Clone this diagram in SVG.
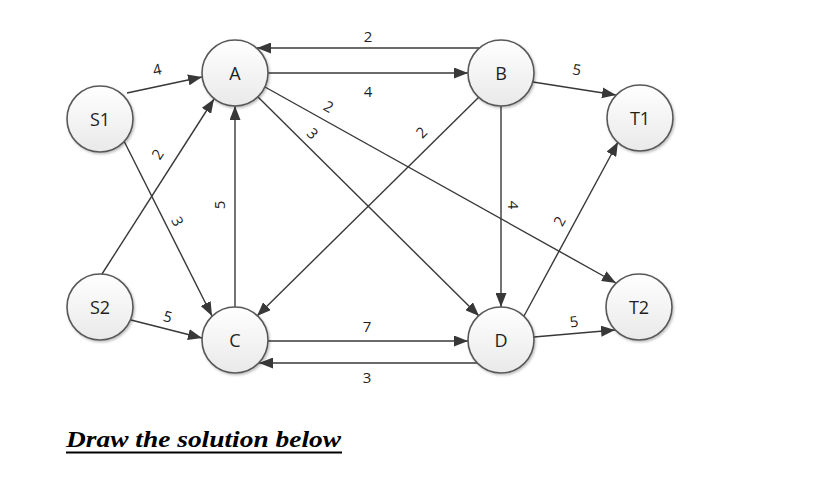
<svg xmlns="http://www.w3.org/2000/svg" width="826" height="496" viewBox="0 0 826 496">
<style>
.node circle{fill:url(#g);stroke:#595959;stroke-width:1.6;filter:url(#sh)}
.node text{font-family:"Open Sans","DejaVu Sans",sans-serif;font-size:18px;fill:#1f1f1f;text-anchor:middle;dominant-baseline:central}
.e line{stroke:#383838;stroke-width:1.4;fill:none}
.e .a{marker-end:url(#ah)}
.lb{font-family:"Open Sans","DejaVu Sans",sans-serif;font-size:15px;fill:#1f1f1f;text-anchor:middle;dominant-baseline:central}
.title{font-family:"Liberation Serif","Times New Roman",serif;font-size:24px;font-weight:bold;font-style:italic;fill:#000}
</style>
<defs>
<linearGradient id="g" x1="0" y1="0" x2="0" y2="1">
<stop offset="0" stop-color="#ffffff"/>
<stop offset="1" stop-color="#e9e9e9"/>
</linearGradient>
<filter id="sh" x="-20%" y="-20%" width="150%" height="150%">
<feDropShadow dx="1.2" dy="1.5" stdDeviation="1" flood-color="#000" flood-opacity="0.25"/>
</filter>
<marker id="ah" markerUnits="userSpaceOnUse" markerWidth="14" markerHeight="11" refX="14" refY="5.5" orient="auto">
<path d="M0,0 L14,5.5 L0,11 z" fill="#383838"/>
</marker>
</defs>
<rect width="826" height="496" fill="#fff"/>
<g id="connectors" class="e">
<line class="a" x1="127" y1="93" x2="202" y2="77"/>
<line class="a" x1="479" y1="48" x2="257" y2="48"/>
<line class="a" x1="268" y1="73" x2="468" y2="73"/>
<line class="a" x1="533" y1="82" x2="616" y2="95"/>
<line class="a" x1="235" y1="307" x2="235" y2="106"/>
<line class="a" x1="102" y1="274" x2="214" y2="99"/>
<line class="a" x1="124" y1="141" x2="212" y2="316"/>
<line class="a" x1="258" y1="97" x2="479" y2="316"/>
<line class="a" x1="265" y1="87" x2="616" y2="283"/>
<line class="a" x1="479" y1="97" x2="257" y2="316"/>
<line class="a" x1="501" y1="106" x2="501" y2="307"/>
<line class="a" x1="524" y1="316" x2="618" y2="142"/>
<line class="a" x1="534" y1="337" x2="615" y2="330"/>
<line class="a" x1="131" y1="320" x2="202" y2="338"/>
<line class="a" x1="268" y1="341" x2="468" y2="341"/>
<line class="a" x1="477" y1="363" x2="259" y2="363"/>
</g>
<g id="edge-labels">
<text class="lb" transform="translate(157,69) rotate(-12)">4</text>
<text class="lb" x="368" y="36">2</text>
<text class="lb" x="368" y="91">4</text>
<text class="lb" transform="translate(577,69) rotate(9)">5</text>
<text class="lb" transform="translate(219,205) rotate(-90)">5</text>
<text class="lb" transform="translate(157,154) rotate(-57)">2</text>
<text class="lb" transform="translate(178,221) rotate(63)">3</text>
<text class="lb" transform="translate(313,133) rotate(45)">3</text>
<text class="lb" transform="translate(329,106) rotate(29)">2</text>
<text class="lb" transform="translate(421,132) rotate(-45)">2</text>
<text class="lb" transform="translate(514,205) rotate(90)">4</text>
<text class="lb" transform="translate(559,221) rotate(-62)">2</text>
<text class="lb" transform="translate(574,321) rotate(-8)">5</text>
<text class="lb" transform="translate(168,316) rotate(15)">5</text>
<text class="lb" x="367" y="326">7</text>
<text class="lb" x="367" y="377">3</text>
</g>
<g id="S1" class="node"><circle cx="100" cy="119" r="33"/><text x="100" y="119">S1</text></g>
<g id="A" class="node"><circle cx="235" cy="73" r="33"/><text x="235" y="73">A</text></g>
<g id="B" class="node"><circle cx="501" cy="73" r="33"/><text x="501" y="73">B</text></g>
<g id="T1" class="node"><circle cx="640" cy="118" r="33"/><text x="640" y="118">T1</text></g>
<g id="S2" class="node"><circle cx="100" cy="307" r="33"/><text x="100" y="307">S2</text></g>
<g id="C" class="node"><circle cx="235" cy="340" r="33"/><text x="235" y="340">C</text></g>
<g id="D" class="node"><circle cx="501" cy="340" r="33"/><text x="501" y="340">D</text></g>
<g id="T2" class="node"><circle cx="639" cy="307" r="33"/><text x="639" y="307">T2</text></g>
<g id="caption">
<text class="title" x="66" y="447" textLength="275" lengthAdjust="spacingAndGlyphs">Draw the solution below</text>
<line x1="66" y1="452.5" x2="342" y2="452.5" stroke="#000" stroke-width="2"/>
</g>
</svg>
